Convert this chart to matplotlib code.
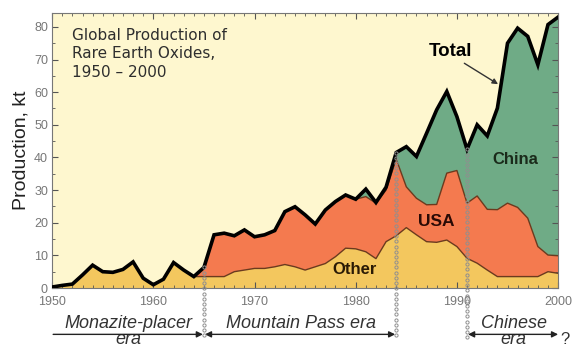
import numpy as np
import matplotlib
matplotlib.use("Agg")
import matplotlib.pyplot as plt
from matplotlib.ticker import MultipleLocator

plt.rcParams['font.family'] = ['Liberation Sans', 'DejaVu Sans']

years = np.arange(1950, 2001)

other = [0.3, 0.8, 1.2, 4.0, 7.0, 5.0, 4.8, 5.7, 8.0, 3.0,
         1.0, 2.7, 7.8, 5.5, 3.5, 3.5, 3.5, 3.5, 5.0, 5.5,
         6.0, 6.0, 6.5, 7.2, 6.5, 5.5, 6.5, 7.5, 9.6, 12.2,
         12.0, 11.1, 9.0, 14.2, 16.0, 18.5, 16.3, 14.2, 14.0, 14.7,
         12.7, 9.1, 7.6, 5.5, 3.5, 3.5, 3.5, 3.5, 3.5, 5.0,
         4.5]
usa = [0, 0, 0, 0, 0, 0, 0, 0, 0, 0,
       0, 0, 0, 0, 0, 2.8, 12.8, 13.3, 11.0, 12.3,
       9.7, 10.3, 11.1, 16.2, 18.4, 16.9, 13.1, 16.4, 16.9, 16.3,
       15.2, 16.9, 17.0, 15.8, 23.5, 12.5, 11.2, 11.3, 11.6, 20.5,
       23.3, 16.9, 20.6, 18.6, 20.5, 22.5, 21.2, 17.9, 9.2, 5.1,
       5.4]
china = [0, 0, 0, 0, 0, 0, 0, 0, 0, 0,
         0, 0, 0, 0, 0, 0, 0, 0, 0, 0,
         0, 0, 0, 0, 0, 0, 0, 0, 0, 0,
         0, 2.3, 0.2, 0.9, 2.0, 12.3, 12.8, 21.9, 29.0, 25.0,
         16.5, 16.5, 21.8, 22.5, 31.1, 49.0, 54.9, 55.7, 55.7, 70.6,
         73.1]

era_bounds = [1965, 1984, 1991]

other = np.array(other)
usa = np.array(usa)
china = np.array(china)
total = other + usa + china

fig = plt.figure(figsize=(5.73, 3.47), dpi=100)
ax = fig.add_axes([0.091, 0.170, 0.883, 0.793])
ax.set_facecolor('#fef7cf')
fig.patch.set_facecolor('white')

ax.stackplot(years, other, usa, china,
             colors=['#f3c75e', '#f47a4f', '#6fab86'], lw=0)
ax.plot(years, other, color='#6b3a1e', lw=1.0)
ax.plot(years, other + usa, color='#6b3a1e', lw=1.0)
ax.plot(years, total, color='black', lw=2.6, solid_joinstyle='miter', zorder=5)

ax.set_xlim(1950, 2000)
ax.set_ylim(0, 84.3)
ax.xaxis.set_major_locator(MultipleLocator(10))
ax.xaxis.set_minor_locator(MultipleLocator(1))
ax.yaxis.set_major_locator(MultipleLocator(10))
ax.yaxis.set_minor_locator(MultipleLocator(5))
ax.tick_params(which='both', direction='in', top=True, right=True,
               colors='#555555', labelsize=9, labelcolor='#777777')
ax.tick_params(which='major', length=4)
ax.tick_params(which='minor', length=2.5)
ax.tick_params(axis='x', pad=6)
ax.tick_params(axis='y', pad=3)
for s in ax.spines.values():
    s.set_color('#777777')
    s.set_linewidth(0.8)
ax.set_ylabel('Production, kt', fontsize=14, labelpad=3, color='#222222')

ax.text(1952.0, 79.8, 'Global Production of\nRare Earth Oxides,\n1950 \u2013 2000',
        fontsize=11, family='DejaVu Sans', color='#2e2e2e', va='top', linespacing=1.32)
ax.text(1989.4, 72.4, 'Total', fontsize=13.5, fontweight='bold', va='center', ha='center')
ax.annotate('', xy=(1994.3, 62), xytext=(1990.5, 69.3),
            arrowprops=dict(arrowstyle='-|>', color='#333333', lw=1.0, mutation_scale=8))
ax.text(1995.8, 39.3, 'China', fontsize=12, fontweight='bold', ha='center', va='center', color='#1a2a1a')
ax.text(1988.0, 20.5, 'USA', fontsize=12.5, fontweight='bold', ha='center', va='center', color='#2a0a05')
ax.text(1979.9, 5.8, 'Other', fontsize=12, fontweight='bold', ha='center', va='center', color='#2a1a05')

# era boundaries, drawn as little open circles
for yr in era_bounds:
    top = total[yr - 1950]
    ys = np.arange(top, -15.5, -1.6)
    ax.plot(np.full(len(ys), yr), ys, ls='none', marker='o', ms=2.3, mfc='none',
            mec='#8f8f8f', mew=0.7, clip_on=False, zorder=6)

arr_y = -14.2
kw = dict(fontsize=13, style='italic', ha='center', color='#333333')
ax.text(1957.5, -10.8, 'Monazite-placer', va='center', **kw)
ax.text(1957.5, -17.3, 'era', va='baseline', **kw)
ax.annotate('', xy=(1964.9, arr_y), xytext=(1950.1, arr_y), annotation_clip=False,
            arrowprops=dict(arrowstyle='-|>', color='#222222', lw=1.0, mutation_scale=9, shrinkA=0, shrinkB=0))
ax.text(1974.6, -10.8, 'Mountain Pass era', va='center', **kw)
ax.annotate('', xy=(1983.9, arr_y), xytext=(1965.1, arr_y), annotation_clip=False,
            arrowprops=dict(arrowstyle='<|-|>', color='#222222', lw=1.0, mutation_scale=9, shrinkA=0, shrinkB=0))
ax.text(1995.6, -10.8, 'Chinese', va='center', **kw)
ax.text(1995.6, -17.3, 'era', va='baseline', **kw)
ax.annotate('', xy=(2000.0, arr_y), xytext=(1991.1, arr_y), annotation_clip=False,
            arrowprops=dict(arrowstyle='<|-|>', color='#222222', lw=1.0, mutation_scale=9, shrinkA=0, shrinkB=0))
ax.text(2000.7, -15.8, '?', fontsize=12, ha='center', va='center', color='#333333')

fig.savefig('out.png', dpi=100)
